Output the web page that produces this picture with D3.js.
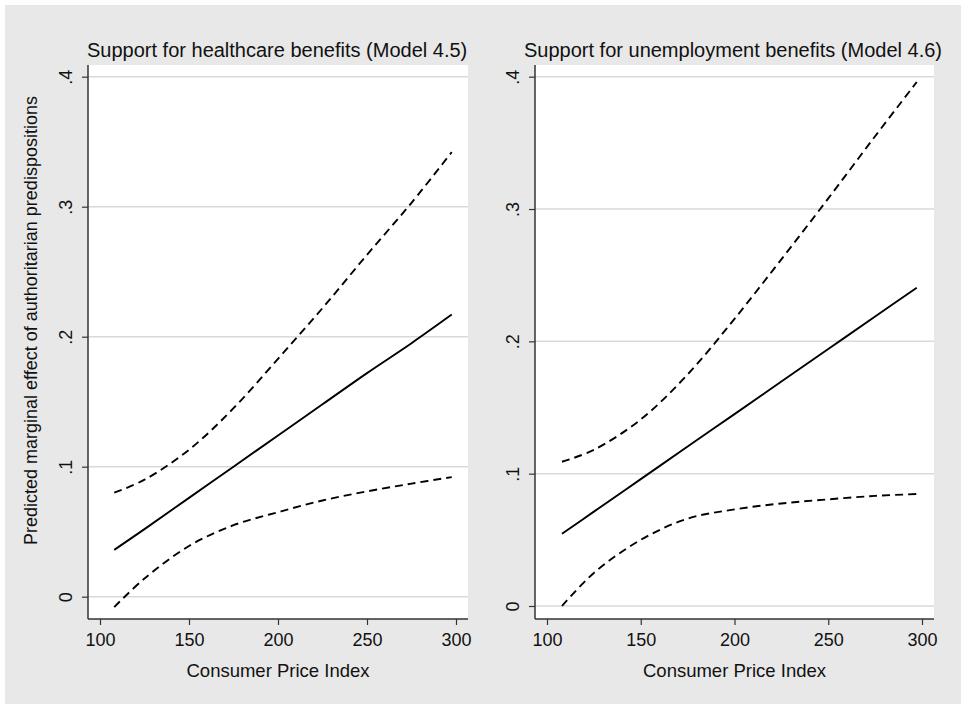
<!DOCTYPE html>
<html lang="en">
<head>
  <meta charset="UTF-8">
  <title>Marginal effect of authoritarian predispositions</title>
  <script src="https://d3js.org/d3.v7.min.js"></script>
  <style>
    body { margin: 0; background: #fff; }
    text { font-family: "Liberation Sans", Arial, sans-serif; fill: #111; }
  </style>
</head>
<body>
  <div id="chart"></div>

  <script>
    // Consumer Price Index grid
    const cpiHealth = [108, 125, 150, 175, 200, 225, 250, 275, 297.6];
    const cpiUnemp  = [108, 125, 150, 175, 200, 225, 250, 275, 297.2];

    // Model 4.5 - healthcare benefits
    const healthEffect = [0.036, 0.052, 0.076, 0.100, 0.124, 0.148, 0.172, 0.195, 0.217];
    const healthLower  = [-0.008, 0.014, 0.039, 0.055, 0.065, 0.074, 0.081, 0.087, 0.092];
    const healthUpper  = [0.080, 0.090, 0.113, 0.145, 0.183, 0.222, 0.263, 0.303, 0.342];

    // Model 4.6 - unemployment benefits
    const unempEffect = [0.0546, 0.0713, 0.0959, 0.1205, 0.145, 0.1696, 0.1942, 0.2188, 0.2405];
    const unempLower  = [0.000, 0.025, 0.050, 0.066, 0.073, 0.0775, 0.0806, 0.0832, 0.0846];
    const unempUpper  = [0.109, 0.118, 0.141, 0.175, 0.217, 0.262, 0.308, 0.355, 0.396];

    const xTicks = [100, 150, 200, 250, 300];
    const yTicks = [0, 0.1, 0.2, 0.3, 0.4];

    const titles = [
      "Support for healthcare benefits (Model 4.5)",
      "Support for unemployment benefits (Model 4.6)"
    ];
    const xTitle = "Consumer Price Index";
    const yTitle = "Predicted marginal effect of authoritarian predispositions";

    const width = 961;
    const height = 704;

    const svg = d3.select("#chart")
      .append("svg")
      .attr("width", width)
      .attr("height", height);

    // grey outer background
    svg.append("rect")
      .attr("x", 5).attr("y", 5)
      .attr("width", width - 5).attr("height", height - 5)
      .attr("fill", "#e8e8e8");

    const fmt = d => d === 0 ? "0" : d3.format(".1f")(d).replace(/^0/, "");

    const panels = [
      {
        title: titles[0], cpi: cpiHealth, mid: healthEffect, lo: healthLower, hi: healthUpper,
        box: { left: 88, right: 468, top: 65, bottom: 619 },
        xRange: [100, 456], yRange: [596.7, 76.7], titleX: 87
      },
      {
        title: titles[1], cpi: cpiUnemp, mid: unempEffect, lo: unempLower, hi: unempUpper,
        box: { left: 535, right: 934, top: 65, bottom: 619 },
        xRange: [547, 922], yRange: [606, 76.7], titleX: 524
      }
    ];

    panels.forEach((p, i) => {
      const g = svg.append("g");
      const b = p.box;

      const x = d3.scaleLinear().domain([100, 300]).range(p.xRange);
      const y = d3.scaleLinear().domain([0, 0.4]).range(p.yRange);

      // plot region
      g.append("rect")
        .attr("x", b.left).attr("y", b.top)
        .attr("width", b.right - b.left).attr("height", b.bottom - b.top)
        .attr("fill", "#fff");

      // gridlines
      g.selectAll(".grid")
        .data(yTicks)
        .enter()
        .append("line")
        .attr("x1", b.left).attr("x2", b.right)
        .attr("y1", d => y(d)).attr("y2", d => y(d))
        .attr("stroke", "#d9d9d9")
        .attr("stroke-width", 1.5);

      // y axis
      const yAxis = g.append("g")
        .attr("transform", `translate(${b.left},0)`)
        .call(d3.axisLeft(y).tickValues(yTicks).tickSize(6).tickFormat(fmt));
      yAxis.select(".domain")
        .attr("d", `M0,${b.top}V${b.bottom}`)
        .attr("stroke", "#333").attr("stroke-width", 1.5);
      yAxis.selectAll(".tick line").attr("stroke", "#333").attr("stroke-width", 1.2);
      yAxis.selectAll(".tick text")
        .attr("x", null).attr("dy", null)
        .attr("transform", "translate(-16,0) rotate(-90)")
        .attr("text-anchor", "middle")
        .style("font-size", "18px")
        .attr("fill", "#111");

      // x axis
      const xAxis = g.append("g")
        .attr("transform", `translate(0,${b.bottom})`)
        .call(d3.axisBottom(x).tickValues(xTicks).tickSize(6));
      xAxis.select(".domain")
        .attr("d", `M${b.left},0H${b.right}`)
        .attr("stroke", "#333").attr("stroke-width", 1.5);
      xAxis.selectAll(".tick line").attr("stroke", "#333").attr("stroke-width", 1.2);
      xAxis.selectAll(".tick text")
        .attr("y", 27).attr("dy", null)
        .style("font-size", "18px")
        .attr("fill", "#111");

      // lines
      const pts = arr => arr.map((v, k) => [p.cpi[k], v]);
      const line = d3.line()
        .x(d => x(d[0]))
        .y(d => y(d[1]))
        .curve(d3.curveCatmullRom);

      g.append("path")
        .attr("d", line(pts(p.mid)))
        .attr("fill", "none").attr("stroke", "#000").attr("stroke-width", 1.9);
      [p.lo, p.hi].forEach(arr => {
        g.append("path")
          .attr("d", line(pts(arr)))
          .attr("fill", "none").attr("stroke", "#000").attr("stroke-width", 1.9)
          .attr("stroke-dasharray", "8,5");
      });

      // titles
      g.append("text")
        .attr("x", p.titleX).attr("y", 57)
        .style("font-size", "20px")
        .text(p.title);

      g.append("text")
        .attr("x", (b.left + b.right) / 2).attr("y", 677)
        .attr("text-anchor", "middle")
        .style("font-size", "18.5px")
        .text(xTitle);

      if (i === 0) {
        g.append("text")
          .attr("transform", "translate(37,545) rotate(-90)")
          .attr("text-anchor", "start")
          .style("font-size", "18px")
          .text(yTitle);
      }
    });
  </script>
</body>
</html>
